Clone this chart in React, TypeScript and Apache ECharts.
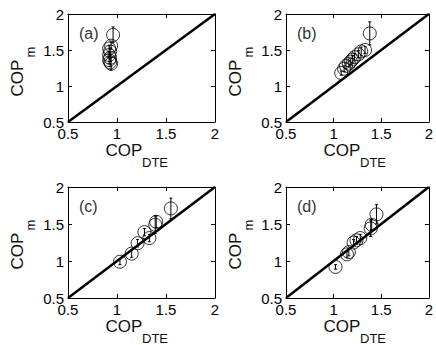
import React, { useEffect, useRef } from "react";
import * as echarts from "echarts";

// ---- data ----
const aX = [0.96, 0.94, 0.92, 0.93, 0.92, 0.93, 0.92, 0.93, 0.94];
const aY = [1.71, 1.56, 1.52, 1.48, 1.43, 1.39, 1.36, 1.33, 1.31];
const aE = [0.11, 0.05, 0.04, 0.05, 0.04, 0.05, 0.05, 0.06, 0.09];

const bX = [1.38, 1.33, 1.29, 1.26, 1.22, 1.2, 1.18, 1.16, 1.13, 1.11, 1.08];
const bY = [1.73, 1.5, 1.48, 1.44, 1.4, 1.37, 1.34, 1.31, 1.28, 1.24, 1.18];
const bE = [0.16, 0.05, 0.06, 0.05, 0.05, 0.05, 0.04, 0.04, 0.04, 0.04, 0.03];

const cX = [1.03, 1.15, 1.21, 1.28, 1.33, 1.39, 1.4, 1.55];
const cY = [0.99, 1.1, 1.24, 1.39, 1.31, 1.49, 1.53, 1.71];
const cE = [0.04, 0.05, 0.05, 0.05, 0.05, 0.12, 0.08, 0.14];

const dX = [1.02, 1.14, 1.16, 1.21, 1.24, 1.28, 1.39, 1.4, 1.45];
const dY = [0.92, 1.09, 1.12, 1.25, 1.28, 1.31, 1.44, 1.49, 1.63];
const dE = [0.03, 0.04, 0.05, 0.04, 0.05, 0.05, 0.11, 0.07, 0.13];

const panelLabels = ["(a)", "(b)", "(c)", "(d)"];
const identityLine = [0.5, 2];
const axisMin = 0.5;
const axisMax = 2;
const tickStep = 0.5;

const panels = [
  { xs: aX, ys: aY, es: aE },
  { xs: bX, ys: bY, es: bE },
  { xs: cX, ys: cY, es: cE },
  { xs: dX, ys: dY, es: dE },
];

// layout (pixels)
const grids = [
  { left: 68, top: 14, width: 147, height: 108 },
  { left: 286, top: 14, width: 147, height: 108 },
  { left: 68, top: 187, width: 147, height: 111 },
  { left: 286, top: 187, width: 147, height: 111 },
];

const FONT = "'Liberation Sans', Arial, Helvetica, sans-serif";

export default function App() {
  const ref = useRef<HTMLDivElement>(null);

  useEffect(() => {
    if (!ref.current) return;
    const chart = echarts.init(ref.current, null, { renderer: "svg" });

    const xAxes: any[] = [];
    const yAxes: any[] = [];
    const series: any[] = [];
    const graphic: any[] = [];

    grids.forEach((g, i) => {
      const common = {
        min: axisMin,
        max: axisMax,
        interval: tickStep,
        gridIndex: i,
        splitLine: { show: false },
        axisLine: { show: true, lineStyle: { color: "#000", width: 1 } },
        axisTick: { show: true, inside: true, length: 4, lineStyle: { color: "#000", width: 1 } },
      };
      const label = {
        show: true,
        color: "#000",
        fontSize: 15,
        fontFamily: FONT,
        margin: 4,
        showMinLabel: true,
        showMaxLabel: true,
        formatter: (v: number) => String(v),
      };
      xAxes.push({ ...common, type: "value", position: "bottom", axisLabel: label });
      yAxes.push({ ...common, type: "value", position: "left", axisLabel: label });
    });
    grids.forEach((g, i) => {
      const common = {
        min: axisMin,
        max: axisMax,
        interval: tickStep,
        gridIndex: i,
        splitLine: { show: false },
        axisLabel: { show: false },
        axisLine: { show: true, onZero: false, lineStyle: { color: "#000", width: 1 } },
        axisTick: { show: true, inside: true, length: 4, lineStyle: { color: "#000", width: 1 } },
      };
      xAxes.push({ ...common, type: "value", position: "top" });
      yAxes.push({ ...common, type: "value", position: "right" });
    });

    panels.forEach((p, i) => {
      const pts = p.xs.map((x, k) => [x, p.ys[k], p.es[k]]);
      series.push({
        type: "custom",
        xAxisIndex: i,
        yAxisIndex: i,
        data: pts,
        silent: true,
        z: 3,
        renderItem: (params: any, api: any) => {
          const x = api.value(0);
          const y = api.value(1);
          const e = api.value(2);
          const top = api.coord([x, y + e]);
          const bot = api.coord([x, y - e]);
          const cap = 1.5;
          const st = { stroke: "#000", lineWidth: 1 };
          return {
            type: "group",
            children: [
              { type: "line", shape: { x1: top[0], y1: top[1], x2: bot[0], y2: bot[1] }, style: st },
              { type: "line", shape: { x1: top[0] - cap, y1: top[1], x2: top[0] + cap, y2: top[1] }, style: st },
              { type: "line", shape: { x1: bot[0] - cap, y1: bot[1], x2: bot[0] + cap, y2: bot[1] }, style: st },
            ],
          };
        },
      });
      series.push({
        type: "scatter",
        xAxisIndex: i,
        yAxisIndex: i,
        data: pts.map((d) => [d[0], d[1]]),
        symbol: "circle",
        symbolSize: 13,
        itemStyle: { color: "rgba(0,0,0,0)", borderColor: "#000", borderWidth: 1 },
        z: 4,
      });
      series.push({
        type: "line",
        xAxisIndex: i,
        yAxisIndex: i,
        data: identityLine.map((v) => [v, v]),
        symbol: "none",
        lineStyle: { color: "#000", width: 2.5 },
        z: 5,
      });

      const g = grids[i];
      const B = g.top + g.height;
      graphic.push({
        type: "text",
        x: g.left + 11,
        y: g.top + 19,
        style: { text: panelLabels[i], fontSize: 16, fontFamily: FONT, fill: "#333", align: "left", verticalAlign: "middle" },
      });
      graphic.push({
        type: "text",
        x: g.left + 56,
        y: B + 28,
        style: { text: "COP", fontSize: 17, fontFamily: FONT, fill: "#111", align: "center", verticalAlign: "middle" },
      });
      graphic.push({
        type: "text",
        x: g.left + 74,
        y: B + 40,
        style: { text: "DTE", fontSize: 13, fontFamily: FONT, fill: "#111", align: "left", verticalAlign: "middle" },
      });
      graphic.push({
        type: "text",
        x: g.left - 51,
        y: g.top + 64,
        rotation: Math.PI / 2,
        style: { text: "COP", fontSize: 17, fontFamily: FONT, fill: "#111", align: "center", verticalAlign: "middle" },
      });
      graphic.push({
        type: "text",
        x: g.left - 38,
        y: g.top + 38,
        rotation: Math.PI / 2,
        style: { text: "m", fontSize: 13, fontFamily: FONT, fill: "#111", align: "center", verticalAlign: "middle" },
      });
    });

    chart.setOption({
      animation: false,
      backgroundColor: "#fff",
      textStyle: { fontFamily: FONT },
      grid: grids.map((g) => ({ ...g, containLabel: false })),
      xAxis: xAxes,
      yAxis: yAxes,
      series,
      graphic,
    });

    return () => chart.dispose();
  }, []);

  return (
    <div
      ref={ref}
      style={{ position: "fixed", left: 0, top: 0, width: 436, height: 345, background: "#fff" }}
    />
  );
}
